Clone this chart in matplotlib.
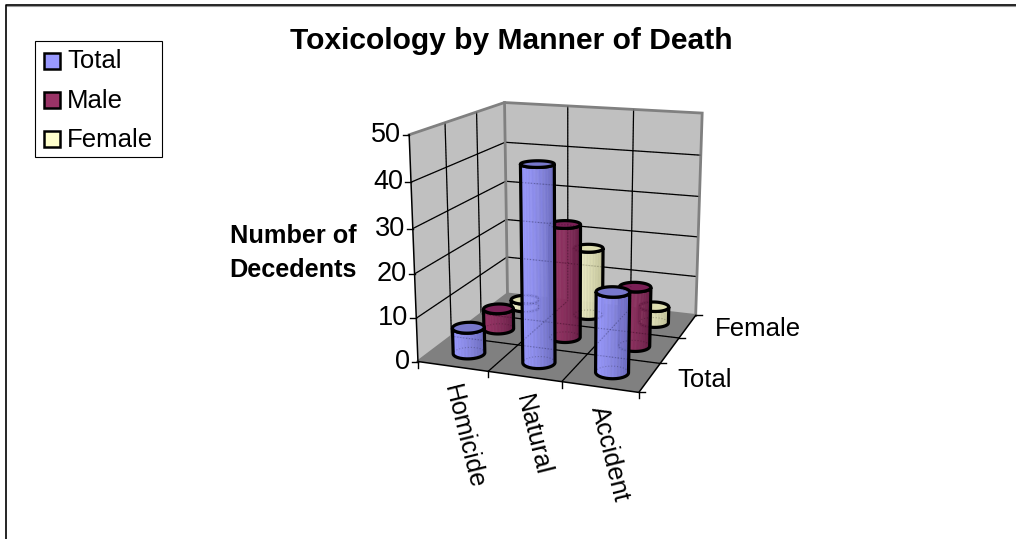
"""plot.py - Excel style 3D cylinder chart, Toxicology by Manner of Death."""
import numpy as np
import matplotlib
matplotlib.use("Agg")
import matplotlib.pyplot as plt
from matplotlib.patches import Polygon, Rectangle

plt.rcParams["font.family"] = ["Liberation Sans", "DejaVu Sans"]

# ---------------------------------------------------------------------------
# Values
# ---------------------------------------------------------------------------
CATEGORIES = ["Homicide", "Natural", "Accident"]
SERIES = ["Total", "Male", "Female"]
TOTAL = [6, 44, 18]
MALE = [5, 27, 14]
FEMALE = [2, 17, 4]
Z_TICKS = [0, 10, 20, 30, 40, 50]
Z_MAX = 50

# colours: body light, body dark, cap
COL_TOTAL = ("#9999FF", "#6C6CC0", "#7878CC")
COL_MALE = ("#993366", "#6A1F48", "#7A1F55")
COL_FEMALE = ("#F2F2C8", "#C4C49A", "#DEDEB0")

# where the corners of the 3D box land in the picture (pixels)
BOX_WORLD = [(0, 0, 0), (3, 0, 0), (3, 3, 0), (0, 3, 0),
             (0, 0, 1), (0, 3, 1), (3, 3, 1)]
BOX_PIXEL = [(418.3, 361.7), (638.3, 392.7), (696, 315), (507.3, 294),
             (409.3, 134.3), (504.3, 102.7), (702.3, 113.3)]


def fit_camera(world, pixel):
    rows = []
    for (x, y, z), (u, v) in zip(world, pixel):
        rows.append([x, y, z, 1, 0, 0, 0, 0, -u*x, -u*y, -u*z, -u])
        rows.append([0, 0, 0, 0, x, y, z, 1, -v*x, -v*y, -v*z, -v])
    return np.linalg.svd(np.array(rows, float))[2][-1].reshape(3, 4)


CAM = fit_camera(BOX_WORLD, BOX_PIXEL)


def proj(x, y, z):
    """x, y in category units, z in data units -> picture pixels"""
    x, y, z = np.broadcast_arrays(x, y, np.asarray(z, float) / Z_MAX)
    h = CAM @ np.array([x, y, z, np.ones_like(x)], float)
    return h[0] / h[2], h[1] / h[2]


def pts(x, y, z):
    return np.column_stack([np.atleast_1d(a) for a in proj(x, y, z)])


def mix(c1, c2, t):
    a, b = np.array(matplotlib.colors.to_rgb(c1)), np.array(matplotlib.colors.to_rgb(c2))
    return tuple(a + (b - a) * t)


fig = plt.figure(figsize=(10.16, 5.39), dpi=100)
ax = fig.add_axes([0, 0, 1, 1])
ax.set_xlim(0, 1016)
ax.set_ylim(539, 0)
ax.axis("off")

# chart frame, only top and left are in the picture
ax.plot([7, 1016], [5.6, 5.6], color="#999999", lw=0.8)
ax.plot([6.3, 6.3, 1016], [539, 4.5, 4.5], color="k", lw=1.2)

# ---- walls and floor -------------------------------------------------------
wall = "#C0C0C0"
ax.add_patch(Polygon(pts([0, 0, 0, 0], [0, 3, 3, 0], [0, 0, Z_MAX, Z_MAX]), fc=wall, ec="none", zorder=1))
ax.add_patch(Polygon(pts([0, 3, 3, 0], [3, 3, 3, 3], [0, 0, Z_MAX, Z_MAX]), fc=wall, ec="none", zorder=1))
ax.add_patch(Polygon(pts([0, 3, 3, 0], [0, 0, 3, 3], [0, 0, 0, 0]), fc="#808080", ec="none", zorder=1))

grid_lines = []
for z in Z_TICKS[1:-1]:
    grid_lines.append(pts([0, 0, 3], [0, 3, 3], [z, z, z]))
for i in (1, 2):
    grid_lines.append(pts([0, 0, 0], [i, i, i], [Z_MAX, 0, 0]))
    grid_lines.append(pts([i, i, i], [3, 3, 3], [Z_MAX, 0, 0]))
    grid_lines.append(pts([i, i], [0, 3], [0, 0]))
    grid_lines.append(pts([0, 3], [i, i], [0, 0]))
for g in grid_lines:
    ax.plot(g[:, 0], g[:, 1], color="k", lw=0.9, solid_capstyle="butt", zorder=2)

# grey box edges
for g in (pts([0, 0, 3, 3], [0, 3, 3, 3], [Z_MAX, Z_MAX, Z_MAX, 0]),
          pts([0, 0], [3, 3], [0, Z_MAX]),
          pts([0, 0, 3], [0, 3, 3], [0, 0, 0])):
    ax.plot(g[:, 0], g[:, 1], color="#808080", lw=2, solid_joinstyle="miter", zorder=2.5)

# black axis lines
g = pts([0, 0, 3, 3], [0, 0, 0, 3], [Z_MAX, 0, 0, 0])
ax.plot(g[:, 0], g[:, 1], color="k", lw=1.1, zorder=2.6)

# ticks
for z in Z_TICKS:
    u, v = proj(0, 0, z)
    ax.plot([u - 6, u], [v, v], color="k", lw=1, zorder=2.6)
    ax.text(u - 8, v, str(z), ha="right", va="center", fontsize=19.5)
for i in range(4):
    u, v = proj(i, 0, 0)
    ax.plot([u, u], [v, v + 6], color="k", lw=1, zorder=2.6)
    u, v = proj(3, i, 0)
    ax.plot([u, u + 6], [v, v], color="k", lw=1, zorder=2.6)

# ---- cylinders -------------------------------------------------------------
RADIUS = 0.21
theta = np.linspace(0, 2 * np.pi, 121)
bar_z = [3.0]


def cylinder(cat, ser, value, cols):
    cx, cy = cat + 0.5, ser + 0.5
    xs = cx + RADIUS * np.cos(theta)
    ys = cy + RADIUS * np.sin(theta)
    low = pts(xs, ys, 0 * xs)
    top = pts(xs, ys, 0 * xs + value)
    i0, i1 = np.argmin(low[:, 0]), np.argmax(low[:, 0])
    # walk the nearer half of the circle, left to right on screen
    idx = np.arange(len(theta) - 1)
    idx = np.roll(idx, -i0)
    pos = int(np.where(idx == i1)[0][0])
    arc_a, arc_b = idx[:pos + 1], np.append(idx[pos:], idx[0])
    front = arc_a if low[arc_a, 1].mean() > low[arc_b, 1].mean() else arc_b
    if low[front[0], 0] > low[front[-1], 0]:
        front = front[::-1]
    span = low[front[-1], 0] - low[front[0], 0]
    z = bar_z[0]
    for n, (a, b) in enumerate(zip(front[:-1], front[1:])):
        t = ((low[a, 0] + low[b, 0]) / 2 - low[front[0], 0]) / span
        c = mix(cols[0], cols[1], t ** 1.6)
        if n % 4 < 2:
            c = mix(c, "k", 0.03)
        ax.add_patch(Polygon([low[a], low[b], top[b], top[a]], fc=c, ec=c, lw=0.3, zorder=z))
    outline = np.vstack([top[front], low[front][::-1]])
    ax.add_patch(Polygon(outline, fc="none", ec="k", lw=2.3, zorder=z + 0.01))
    ax.add_patch(Polygon(top, fc=cols[2], ec="k", lw=2.3, zorder=z + 0.02))
    bar_z[0] = z + 0.1
    return low, top


ghosts = []
for ser, (vals, cols) in reversed(list(enumerate(zip((TOTAL, MALE, FEMALE),
                                                     (COL_TOTAL, COL_MALE, COL_FEMALE))))):
    for cat, val in enumerate(vals):
        ghosts.append(cylinder(cat, ser, val, cols))

# the bars are slightly see through: grid and hidden bars shimmer on top
for g in grid_lines:
    ax.plot(g[:, 0], g[:, 1], color="k", lw=0.8, ls=":", alpha=0.25, zorder=6)
for low, top in ghosts:
    ax.plot(low[:, 0], low[:, 1], color="k", lw=0.8, ls=":", alpha=0.22, zorder=6)
    ax.plot(top[:, 0], top[:, 1], color="k", lw=0.8, ls=":", alpha=0.22, zorder=6)

# ---- text ------------------------------------------------------------------
ax.text(511, 41, "Toxicology by Manner of Death", ha="center", va="center",
        fontsize=21.6, fontweight="bold")
ax.text(293, 236, "Number of", ha="center", va="center", fontsize=18.2, fontweight="bold")
ax.text(293, 270, "Decedents", ha="center", va="center", fontsize=18.2, fontweight="bold")

for i, name in enumerate(CATEGORIES):
    u, v = proj(i + 0.5, 0, 0)
    ax.text(u - 2, v + 19, name, rotation=-76, rotation_mode="anchor",
            ha="left", va="center", fontsize=18.3)
for i, name in [(0, SERIES[0]), (2, SERIES[2])]:
    u, v = proj(3, i + 0.5, 0)
    ax.text(u + 27, v + 3, name, ha="left", va="center", fontsize=18.5)

# ---- legend ----------------------------------------------------------------
ax.add_patch(Rectangle((35, 41), 127, 116, fc="w", ec="k", lw=0.8, zorder=7))
for i, (name, cols) in enumerate(zip(SERIES, (COL_TOTAL, COL_MALE, ("#FFFFCC",)))):
    y = 60.5 + i * 39.2
    ax.add_patch(Rectangle((44, y - 8), 16, 16, fc=cols[0], ec="k", lw=1.8, zorder=8))
    ax.text(67, y + 1, name, ha="left", va="center", fontsize=18.5, zorder=8)

fig.savefig("out.png", dpi=100)
